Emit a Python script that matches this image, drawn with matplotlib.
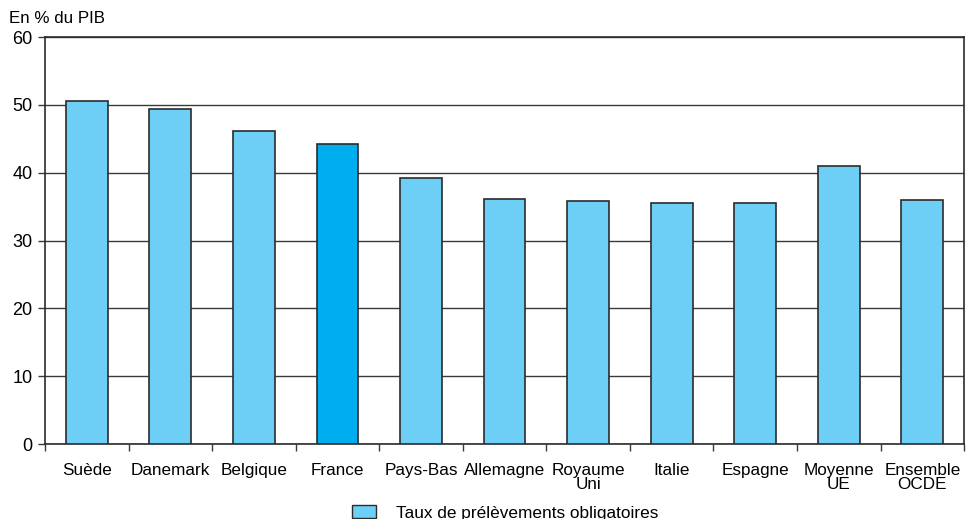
import matplotlib
matplotlib.use("Agg")
import matplotlib.pyplot as plt
from matplotlib.patches import Patch
import numpy as np

plt.rcParams['font.family'] = ['Liberation Sans', 'DejaVu Sans']

categories = ["Suède", "Danemark", "Belgique", "France", "Pays-Bas", "Allemagne",
              "Royaume\nUni", "Italie", "Espagne", "Moyenne\nUE", "Ensemble\nOCDE"]
values = [50.6, 49.4, 46.2, 44.2, 39.2, 36.1, 35.8, 35.5, 35.5, 41.0, 36.0]
highlight = "France"
y_ticks = [0, 10, 20, 30, 40, 50, 60]

light = "#6dcff6"
dark = "#00aeef"
edge = "#2b2b2b"

fig = plt.figure(figsize=(9.68, 5.19), dpi=100)
ax = fig.add_axes([0.0465, 0.1445, 0.9495, 0.7842])

x = np.arange(len(categories))
colors = [dark if c == highlight else light for c in categories]
ax.bar(x, values, width=0.5, color=colors, edgecolor=edge, linewidth=1.2, zorder=3)

ax.set_xlim(-0.5, len(categories) - 0.5)
ax.set_ylim(0, 60)
ax.set_yticks(y_ticks)
ax.yaxis.grid(True, color="#3a3a3a", linewidth=1.0, zorder=0)
ax.tick_params(axis='y', labelsize=13, length=5, width=1, color="#3a3a3a", pad=4)

# category boundaries carry the ticks, labels sit at the centres
ax.set_xticks(np.arange(len(categories) + 1) - 0.5)
ax.set_xticklabels([])
ax.set_xticks(x, minor=True)
ax.set_xticklabels(categories, minor=True, fontsize=12.3, linespacing=0.9)
ax.tick_params(axis='x', which='major', length=5, width=1, color="#3a3a3a")
ax.tick_params(axis='x', which='minor', length=0, pad=14)

for s in ax.spines.values():
    s.set_color("#2b2b2b")
    s.set_linewidth(1.2)

fig.text(0.009, 0.965, "En % du PIB", fontsize=12.2, ha="left", va="center")

handle = Patch(facecolor=light, edgecolor=edge, linewidth=1.0)
fig.legend([handle], ["Taux de prélèvements obligatoires"], loc="center",
           bbox_to_anchor=(0.522, 0.012), frameon=False, fontsize=12.4,
           handlelength=1.4, handleheight=0.8, handletextpad=1.2)

fig.savefig("out.png", dpi=100)
